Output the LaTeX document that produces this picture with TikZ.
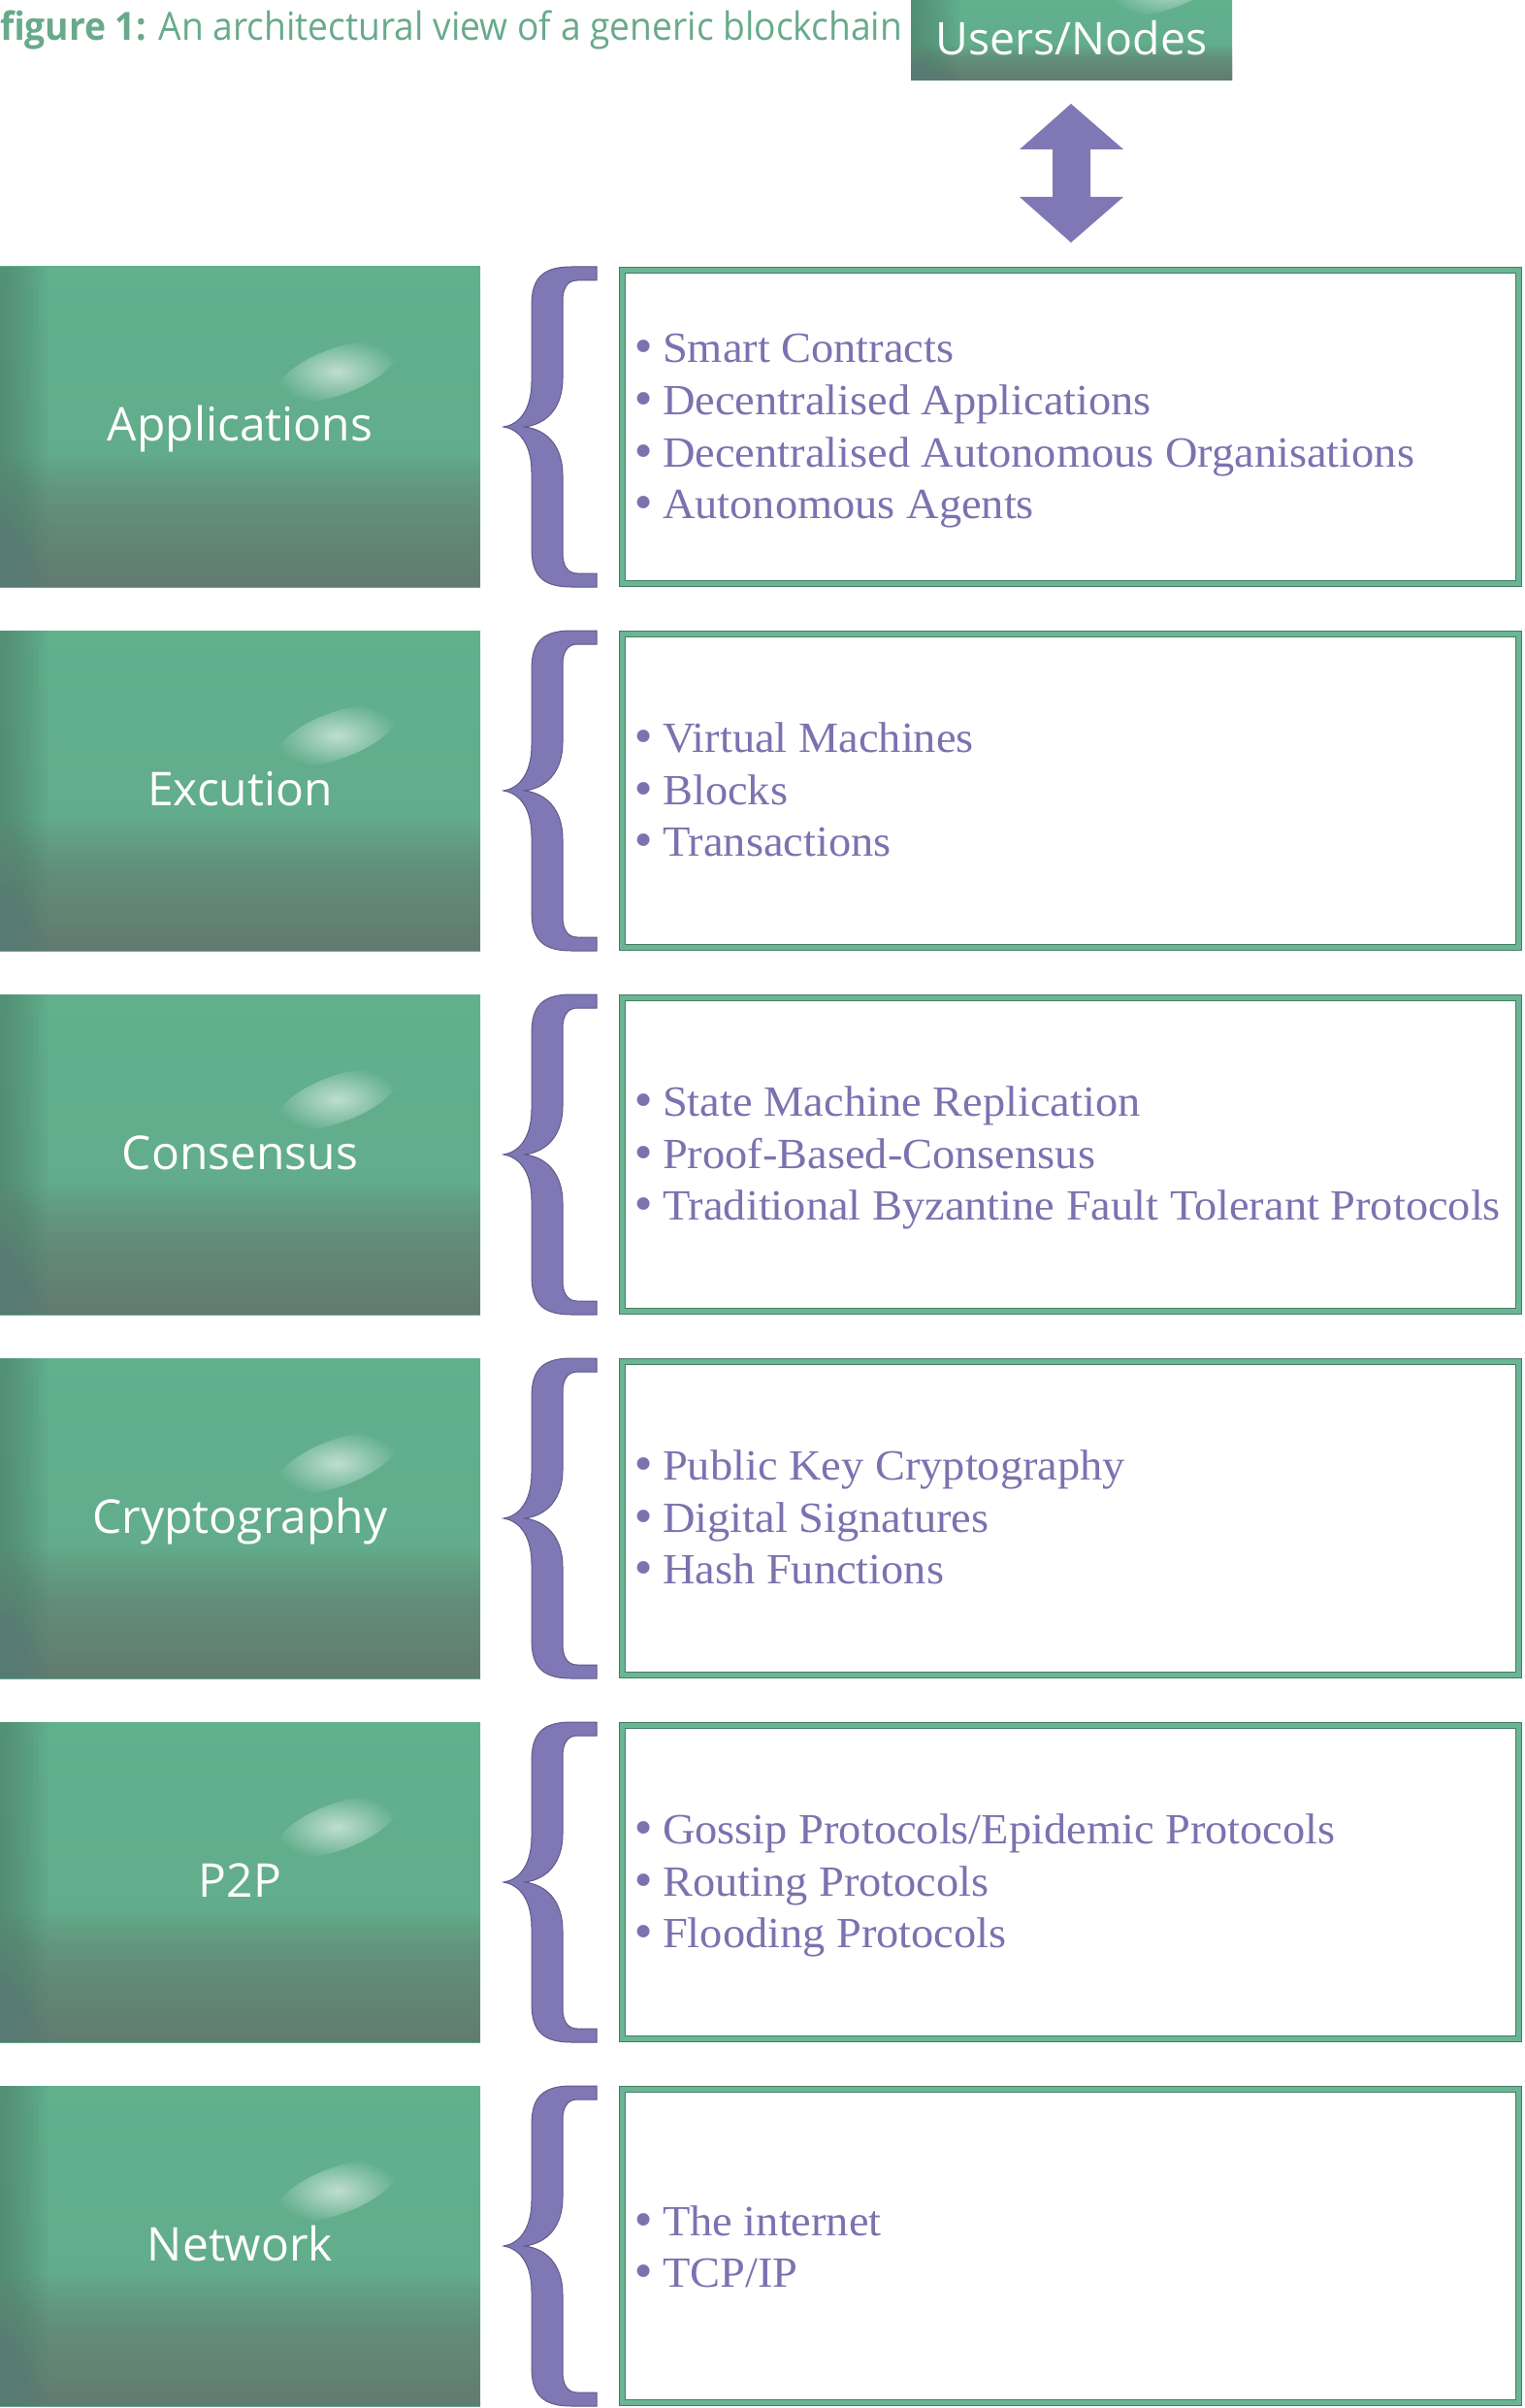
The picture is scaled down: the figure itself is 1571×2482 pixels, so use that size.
\documentclass[tikz,border=0pt]{standalone}
\usepackage{fontspec}
\setmainfont{Liberation Serif}[FakeStretch=1.045]
\newfontfamily\labelfont{Open Sans}
\newfontfamily\dotfont{DejaVu Sans}
\usetikzlibrary{fadings}
\definecolor{layergreen}{RGB}{97,177,141}
\definecolor{layerdark}{RGB}{72,112,96}
\definecolor{layergray}{RGB}{106,122,114}
\definecolor{framegreen}{RGB}{106,182,148}
\definecolor{framedark}{RGB}{70,124,100}
\definecolor{bracepurple}{RGB}{127,120,181}
\definecolor{itempurple}{RGB}{122,115,176}
\definecolor{titlegreen}{RGB}{104,170,138}
\tikzfading[name=glow, inner color=transparent!0, outer color=transparent!100]
\newcommand\itembullet{{\dotfont •}\hspace{3.5pt}}

\begin{document}
\begin{tikzpicture}
[x=0.5pt, y=-0.5pt, every node/.style={inner sep=0pt, outer sep=0pt},
 layer/.style={minimum width=247.5pt, minimum height=165pt, top color=layergreen, bottom color=layergreen!85!layergray,
   text=white, font=\labelfont\fontsize{24}{24}\selectfont, text height=17pt, text depth=2pt,
   path picture={
     \foreach \k in {1,...,10}
       \fill[layerdark, opacity=.06] (path picture bounding box.north west) rectangle ++(\k*5,330);
     \foreach \k in {1,...,30}
       \fill[layergray, opacity=.05] (path picture bounding box.south west) rectangle ++(495,-\k*#1);
     \fill[white, opacity=.6, path fading=glow] ([shift={(100,-57)}]path picture bounding box.center) ellipse [x radius=65, y radius=24, rotate=20];
   }},
 layer/.default=4.5,
 listbox/.style={minimum width=461.8pt, minimum height=161.3pt, fill=white, draw=framedark, line width=.6pt, double=framegreen, double distance=2.5pt},
 item/.style={anchor=base west, text=itempurple, font=\fontsize{22.2}{22.2}\selectfont},
 layerbrace/.pic={
   \fill[bracepurple, draw=bracepurple!75!black, line width=.5pt] (96,0) -- (70,0) .. controls (40,0) and (29,12) .. (29,40) -- (29,118)
     .. controls (29,150) and (14,163) .. (0,165) .. controls (14,167) and (29,180) .. (29,212) -- (29,290)
     .. controls (29,318) and (40,330) .. (70,330) -- (96,330) -- (96,316) -- (76,316)
     .. controls (66,316) and (61,308) .. (61,295) -- (61,215) .. controls (61,185) and (45,168) .. (22,165)
     .. controls (45,162) and (61,145) .. (61,115) -- (61,35) .. controls (61,22) and (66,14) .. (76,14) -- (96,14) -- cycle;
 }]
    \useasboundingbox (0,0) rectangle (1571,2482);
    \coordinate (link) at (1104.5,178.5);
    % title and users
    \node[anchor=base west, text=titlegreen, font=\labelfont\fontsize{20}{20}\selectfont] (title) at (0,42)
        {\scalebox{0.93}[1]{\textbf{figure 1:} An architectural view of a generic blockchain}};
    \node[layer=1.2, minimum width=165.5pt, minimum height=41.5pt, font=\labelfont\fontsize{23.2}{23.2}\selectfont,
        text height=17.5pt, text depth=2pt] (users) at (1104.5,41.5) {Users/Nodes};
    % double arrow
    \fill[bracepurple] (1104,107) -- (1158,154) -- (1124,154) -- (1124,203) -- (1158,203) -- (1104,250)
        -- (1051,203) -- (1085,203) -- (1085,154) -- (1051,154) -- cycle;
    % layers
    \node[layer] (l0) at (247.5,440) {Applications};
    \node[layer] (l1) at (247.5,815) {Excution};
    \node[layer] (l2) at (247.5,1190) {Consensus};
    \node[layer] (l3) at (247.5,1565) {Cryptography};
    \node[layer] (l4) at (247.5,1940) {P2P};
    \node[layer] (l5) at (247.5,2315) {Network};
    %curly brackets
    \pic at (519,275) {layerbrace};
    \pic at (519,650) {layerbrace};
    \pic at (519,1025) {layerbrace};
    \pic at (519,1400) {layerbrace};
    \pic at (519,1775) {layerbrace};
    \pic at (519,2150) {layerbrace};
    % lists
    \node[listbox] (b0) at (1103.5,440) {};
    \node[item] (i00) at (650,374) {\itembullet Smart Contracts};
    \node[item] (i01) at (650,427.5) {\itembullet Decentralised Applications};
    \node[item] (i02) at (650,481) {\itembullet Decentralised Autonomous Organisations};
    \node[item] (i03) at (650,534.5) {\itembullet Autonomous Agents};
    \node[listbox] (b1) at (1103.5,815) {};
    \node[item] (i10) at (650,775.5) {\itembullet Virtual Machines};
    \node[item] (i11) at (650,829) {\itembullet Blocks};
    \node[item] (i12) at (650,882.5) {\itembullet Transactions};
    \node[listbox] (b2) at (1103.5,1190) {};
    \node[item] (i20) at (650,1150.5) {\itembullet State Machine Replication};
    \node[item] (i21) at (650,1204) {\itembullet Proof-Based-Consensus};
    \node[item] (i22) at (650,1257.5) {\itembullet Traditional Byzantine Fault Tolerant Protocols};
    \node[listbox] (b3) at (1103.5,1565) {};
    \node[item] (i30) at (650,1525.5) {\itembullet Public Key Cryptography};
    \node[item] (i31) at (650,1579) {\itembullet Digital Signatures};
    \node[item] (i32) at (650,1632.5) {\itembullet Hash Functions};
    \node[listbox] (b4) at (1103.5,1940) {};
    \node[item] (i40) at (650,1900.5) {\itembullet Gossip Protocols/Epidemic Protocols};
    \node[item] (i41) at (650,1954) {\itembullet Routing Protocols};
    \node[item] (i42) at (650,2007.5) {\itembullet Flooding Protocols};
    \node[listbox] (b5) at (1103.5,2315) {};
    \node[item] (i50) at (650,2304) {\itembullet The internet};
    \node[item] (i51) at (650,2357.5) {\itembullet TCP/IP};
\end{tikzpicture}
\end{document}
